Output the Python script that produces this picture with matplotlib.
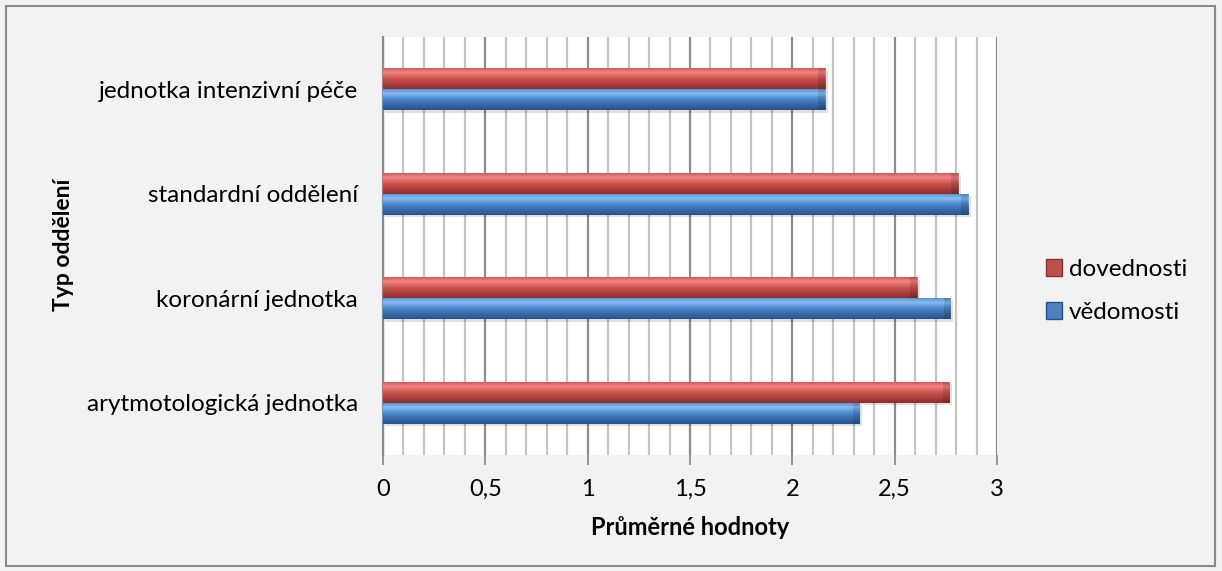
import numpy as np
import matplotlib.pyplot as plt
from matplotlib.patches import Rectangle, Patch
from matplotlib.colors import LinearSegmentedColormap
from matplotlib.ticker import MultipleLocator, FuncFormatter

# --- data ---
categories = ["arytmotologická jednotka", "koronární jednotka",
              "standardní oddělení", "jednotka intenzivní péče"]
dovednosti = [2.77, 2.61, 2.81, 2.16]
vedomosti = [2.33, 2.775, 2.86, 2.16]
series_names = ["dovednosti", "vědomosti"]

plt.rcParams["font.family"] = ["Lato", "DejaVu Sans"]

fig = plt.figure(figsize=(12.22, 5.71), dpi=100)
fig.patch.set_facecolor("#f2f2f2")
fig.patches.append(Rectangle((6 / 1222, 5 / 571), 1209 / 1222, 560 / 571,
                             transform=fig.transFigure, fill=False,
                             edgecolor="#8a8a8a", linewidth=1.5))

ax = fig.add_axes([383 / 1222, 116 / 571, 614 / 1222, 418 / 571])
ax.set_facecolor("white")

y = np.arange(len(categories))
h = 0.2

red_cmap = LinearSegmentedColormap.from_list(
    "r", ["#8c302d", "#a83b38", "#be4a47", "#d9605d", "#f28784", "#d65855"])
blue_cmap = LinearSegmentedColormap.from_list(
    "b", ["#27528a", "#3465a3", "#4279bd", "#5a95d6", "#86c0f2", "#5b91d2"])
grad = np.linspace(0, 1, 64).reshape(-1, 1)

def gradient_bars(vals, pos, cmap, base):
    # soft shadow under each bar
    ax.barh(pos - 0.025, vals, height=h, left=0.012, color="#000000",
            alpha=0.12, zorder=2)
    bars = ax.barh(pos, vals, height=h, color=base, zorder=3)
    for b in bars:
        x0, y0 = b.get_x(), b.get_y()
        im = ax.imshow(grad, cmap=cmap, aspect="auto", origin="lower",
                       extent=[x0, x0 + b.get_width(), y0, y0 + b.get_height()],
                       zorder=4)
        im.set_clip_path(b)
        # bevel on the bar end
        ax.add_patch(Rectangle((x0 + b.get_width() - 0.035, y0), 0.035,
                               b.get_height(), color="black", alpha=0.12,
                               zorder=5, linewidth=0))
    return bars

gradient_bars(dovednosti, y + h / 2, red_cmap, "#c0504d")
gradient_bars(vedomosti, y - h / 2, blue_cmap, "#4f81bd")

ax.set_xlim(0, 3)
ax.set_ylim(-0.5, len(categories) - 0.5)

# grid
ax.xaxis.set_major_locator(MultipleLocator(0.5))
ax.xaxis.set_minor_locator(MultipleLocator(0.1))
ax.grid(True, which="minor", axis="x", color="#c4c4c4", linewidth=1.6, zorder=0)
ax.grid(True, which="major", axis="x", color="#8c8c8c", linewidth=1.6, zorder=0)
ax.set_axisbelow(True)

ax.xaxis.set_major_formatter(FuncFormatter(lambda v, p: f"{v:g}".replace(".", ",")))
ax.tick_params(axis="x", which="major", length=7, width=1.3, color="#8c8c8c",
               labelsize=17, pad=10)
ax.tick_params(axis="x", which="minor", length=0)

ax.set_yticks(y)
ax.set_yticklabels(categories, fontsize=17.5)
ax.tick_params(axis="y", length=0, pad=18)

for s in ["top", "right", "bottom"]:
    ax.spines[s].set_visible(False)
ax.spines["left"].set_color("#8c8c8c")
ax.spines["left"].set_linewidth(1.6)

ax.set_xlabel("Průměrné hodnoty", fontsize=17, fontweight="bold", labelpad=12)
fig.text(63 / 1222, (571 - 245) / 571, "Typ oddělení", rotation=90, fontsize=16.5,
         fontweight="bold", ha="center", va="center")

handles = [Patch(facecolor="#c0504d", edgecolor="#8c302d", label=series_names[0]),
           Patch(facecolor="#4f81bd", edgecolor="#27528a", label=series_names[1])]
fig.legend(handles=handles, loc="center left",
           bbox_to_anchor=(1024 / 1222, (571 - 291) / 571),
           frameon=False, fontsize=17.5, handlelength=0.65, handleheight=0.65,
           handletextpad=0.3, labelspacing=0.9)

plt.savefig("out.png", dpi=100, facecolor=fig.get_facecolor())
